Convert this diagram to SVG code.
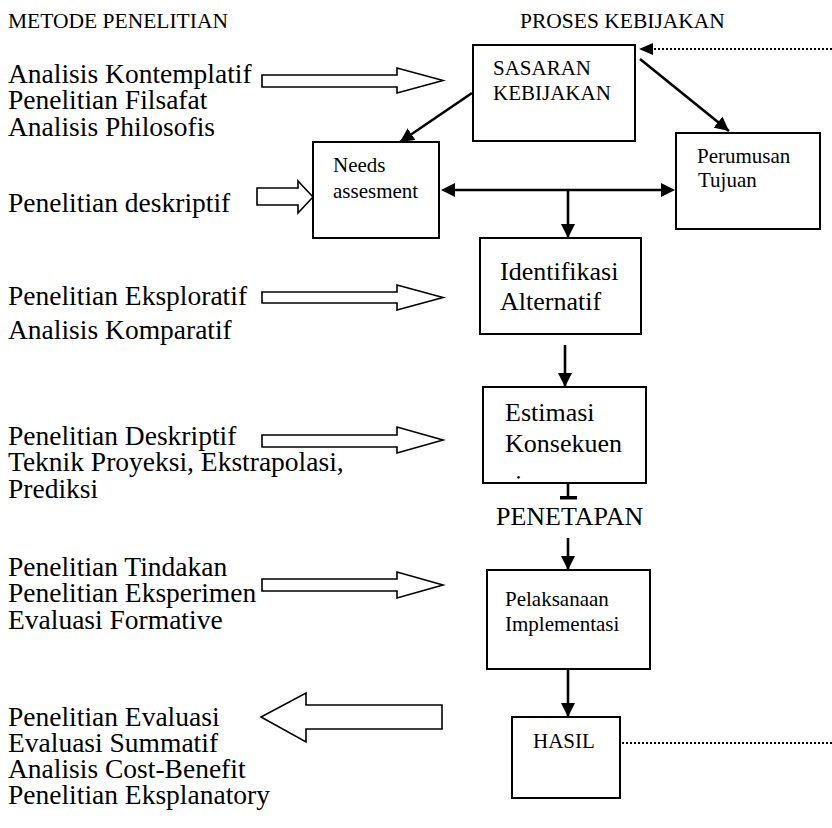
<svg xmlns="http://www.w3.org/2000/svg" width="832" height="828" viewBox="0 0 832 828">
<style>
.t{font-family:"Liberation Serif","Times New Roman",serif;fill:#000}
.title{font-size:21.5px}
.body{font-size:27.5px}
.big{font-size:26px}
.small{font-size:21px}
.box{fill:#fff;stroke:#000;stroke-width:2}
.hollow{fill:#fff;stroke:#000;stroke-width:1.6;stroke-linejoin:miter}
.conn{fill:none;stroke:#000;stroke-width:2.6}
.dot{fill:none;stroke:#000;stroke-width:2;stroke-dasharray:2 2}
</style>
<defs>
<marker id="ah" markerWidth="14" markerHeight="14" refX="14" refY="7" orient="auto" markerUnits="userSpaceOnUse">
<path d="M0,0 L14,7 L0,14 z" fill="#000"/>
</marker>
<clipPath id="clipEst"><rect x="484" y="388" width="161" height="93"/></clipPath>
</defs>
<rect width="832" height="828" fill="#fff"/>

<g id="titles">
<text class="t title" x="8" y="28">METODE PENELITIAN</text>
<text class="t title" x="520" y="28">PROSES KEBIJAKAN</text>
</g>

<g id="methods">
<text class="t body" x="8" y="83">Analisis Kontemplatif</text>
<text class="t body" x="8" y="109">Penelitian Filsafat</text>
<text class="t body" x="8" y="136">Analisis Philosofis</text>
<text class="t body" x="8" y="212">Penelitian deskriptif</text>
<text class="t body" x="8" y="305">Penelitian Eksploratif</text>
<text class="t body" x="8" y="339">Analisis Komparatif</text>
<text class="t body" x="8" y="445">Penelitian Deskriptif</text>
<text class="t body" x="8" y="471">Teknik Proyeksi, Ekstrapolasi,</text>
<text class="t body" x="8" y="498">Prediksi</text>
<text class="t body" x="8" y="576">Penelitian Tindakan</text>
<text class="t body" x="8" y="602">Penelitian Eksperimen</text>
<text class="t body" x="8" y="629">Evaluasi Formative</text>
<text class="t body" x="8" y="726">Penelitian Evaluasi</text>
<text class="t body" x="8" y="752">Evaluasi Summatif</text>
<text class="t body" x="8" y="778">Analisis Cost-Benefit</text>
<text class="t body" x="8" y="804">Penelitian Eksplanatory</text>
</g>

<g id="hollow-arrows">
<polygon class="hollow" points="262,75 397,75 397,68 443,80.5 397,93 397,87 262,87"/>
<polygon class="hollow" points="257,188 298,188 298,181 313,197 298,213 298,205 257,205"/>
<polygon class="hollow" points="262,292 397,292 397,285 443,297.5 397,310 397,303 262,303"/>
<polygon class="hollow" points="262,435 397,435 397,427 443,440 397,453 397,447 262,447"/>
<polygon class="hollow" points="262,579 397,579 397,572 443,585 397,598 397,591 262,591"/>
<polygon class="hollow" points="442,705 306,705 306,693 261,717 306,742 306,729 442,729"/>
</g>

<g id="connectors">
<path class="dot" d="M832,49 H653"/>
<polygon points="639,49 653,43 653,55" fill="#000"/>
<path class="conn" d="M640,59 L729,131" marker-end="url(#ah)"/>
<path class="conn" d="M472,93 L400,142" marker-end="url(#ah)"/>
<path class="conn" d="M455,190 H661"/>
<polygon points="441,190 455,183 455,197" fill="#000"/>
<polygon points="675,190 661,183 661,197" fill="#000"/>
<path class="conn" d="M568,190 V238" marker-end="url(#ah)"/>
<path class="conn" d="M565,345 V387" marker-end="url(#ah)"/>
<path class="conn" d="M568,483 V497"/>
<rect x="560" y="496" width="17" height="3.5" fill="#000"/>
<path class="conn" d="M568,538 V570" marker-end="url(#ah)"/>
<path class="conn" d="M568,669 V717" marker-end="url(#ah)"/>
<path class="dot" d="M622,743 H832"/>
</g>

<g id="sasaran">
<rect class="box" x="473" y="45" width="162" height="96"/>
<text class="t small" x="493" y="75">SASARAN</text>
<text class="t small" x="493" y="100">KEBIJAKAN</text>
</g>

<g id="needs">
<rect class="box" x="313" y="142" width="126" height="96"/>
<text class="t small" x="333" y="172">Needs</text>
<text class="t small" x="333" y="198">assesment</text>
</g>

<g id="perumusan">
<rect class="box" x="676" y="133" width="144" height="96"/>
<text class="t small" x="697" y="163">Perumusan</text>
<text class="t small" x="698" y="187">Tujuan</text>
</g>

<g id="identifikasi">
<rect class="box" x="480" y="238" width="161" height="96"/>
<text class="t big" x="500" y="280">Identifikasi</text>
<text class="t big" x="500" y="310">Alternatif</text>
</g>

<g id="estimasi">
<rect class="box" x="483" y="387" width="163" height="96"/>
<text class="t big" x="505" y="421">Estimasi</text>
<text class="t big" x="505" y="452">Konsekuen</text>
<text class="t big" x="505" y="492.5" clip-path="url(#clipEst)">si</text>
</g>

<g id="penetapan">
<text class="t big" x="496" y="525">PENETAPAN</text>
</g>

<g id="pelaksanaan">
<rect class="box" x="487" y="570" width="163" height="99"/>
<text class="t small" x="505" y="606">Pelaksanaan</text>
<text class="t small" x="505" y="631">Implementasi</text>
</g>

<g id="hasil">
<rect class="box" x="512" y="717" width="108" height="81"/>
<text class="t small" x="533" y="748">HASIL</text>
</g>
</svg>
